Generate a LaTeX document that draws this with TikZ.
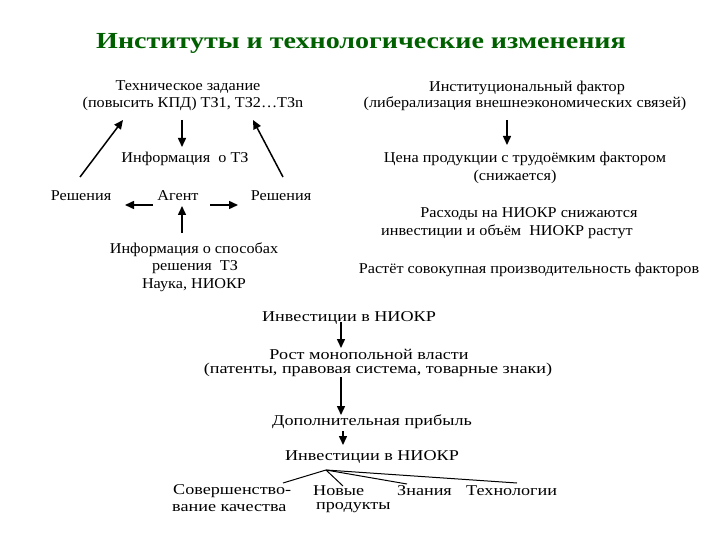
\documentclass[tikz,border=0pt]{standalone}
\usepackage{fontspec}
\setmainfont{Liberation Serif}
\newfontfamily\fontA[FakeStretch=1.08]{Liberation Serif}
\newfontfamily\fontB[FakeStretch=1.21]{Liberation Serif}
\newfontfamily\fontT[FakeStretch=1.22]{Liberation Serif}
\usetikzlibrary{arrows.meta,calc}
\definecolor{titlegreen}{RGB}{0,96,0}
\begin{document}
\begin{tikzpicture}[x=1pt,y=-1pt,
  txt/.style={inner sep=0pt,font=\fontA\fontsize{15}{17}\selectfont},
  mtxt/.style={inner sep=0pt,font=\fontB\fontsize{15}{17}\selectfont},
  ltxt/.style={mtxt,anchor=west},
  arr/.style={line width=1.5pt,-{Triangle[length=9pt,width=8pt]}},
  ln/.style={line width=1pt}]
\useasboundingbox (0,0) rectangle (720,540);
\node[inner sep=0pt,font=\fontT\fontsize{23}{26}\selectfont\bfseries,text=titlegreen] (title) at (361,43) {Институты и технологические изменения};
% left block
\node[txt] (tz1) at (188,87) {Техническое задание};
\node[txt] (tz2) at (193,104) {(повысить КПД) ТЗ1, ТЗ2…ТЗn};
\node[txt] (info) at (185,159) {Информация\ \ о ТЗ};
\node[txt] (solL) at (81,196) {Решения};
\node[txt] (agent) at (178,196) {Агент};
\node[txt] (solR) at (281,196) {Решения};
\node[txt] (way1) at (194,250) {Информация о способах};
\node[txt] (way2) at (195,267) {решения\ \ ТЗ};
\node[txt] (way3) at (194,285) {Наука, НИОКР};
% right block
\node[txt] (inst1) at (527,88) {Институциональный фактор};
\node[txt] (inst2) at (525,104) {(либерализация внешнеэкономических связей)};
\node[txt] (price1) at (525,159) {Цена продукции с трудоёмким фактором};
\node[txt] (price2) at (515,177) {(снижается)};
\node[txt] (rd1) at (529,214) {Расходы на НИОКР снижаются};
\node[txt] (rd2) at (507,232) {инвестиции и объём\ \ НИОКР растут};
\node[txt] (tfp) at (529,270) {Растёт совокупная производительность факторов};
% middle chain
\node[mtxt] (inv1) at (349,318) {Инвестиции в НИОКР};
\node[mtxt] (mon1) at (369,354) {Рост монопольной власти};
\node[mtxt] (mon2) at (378,370) {(патенты, правовая система, товарные знаки)};
\node[mtxt] (profit) at (372,422) {Дополнительная прибыль};
\node[mtxt] (inv2) at (372,457) {Инвестиции в НИОКР};
\node[ltxt] (q1) at (173,491) {Совершенство-};
\node[ltxt] (q2) at (172,508) {вание качества};
\node[ltxt] (n1) at (313,491) {Новые};
\node[ltxt] (n2) at (316,508) {продукты};
\node[ltxt] (kn) at (397,491) {Знания};
\node[ltxt] (tech) at (466,491) {Технологии};
% arrows left block
\draw[arr] ($(tz2)+(-11,16)$) -- ($(info)+(-3,-12)$);
\draw[arr] ($(agent)+(-25,9)$) -- ($(solL)+(44,9)$);
\draw[arr] ($(agent)+(32,9)$) -- ($(solR)+(-43,9)$);
\draw[arr] ($(way1)+(-12,-17)$) -- ($(agent)+(4,10)$);
\draw[arr] ($(solL)+(-1,-19)$) -- ($(tz2)+(-70,16)$);
\draw[arr] ($(solR)+(2,-19)$) -- ($(tz2)+(60,16)$);
% right block
\draw[arr] ($(inst2)+(-18,16)$) -- ($(price1)+(-18,-14)$);
% middle
\draw[arr] ($(inv1)+(-8,4)$) -- ($(mon1)+(-28,-6)$);
\draw[arr] ($(mon2)+(-37,7)$) -- ($(profit)+(-31,-7)$);
\draw[arr] ($(profit)+(-29,9)$) -- ($(inv2)+(-29,-12)$);
\coordinate (apex) at ($(inv2)+(-46,13)$);
\draw[ln] (apex) -- ($(q1.west)+(110,-8)$);
\draw[ln] (apex) -- ($(n1.west)+(30,-5)$);
\draw[ln] (apex) -- ($(kn.west)+(10,-7)$);
\draw[ln] (apex) -- ($(tech.west)+(51,-8)$);
\end{tikzpicture}
\end{document}
